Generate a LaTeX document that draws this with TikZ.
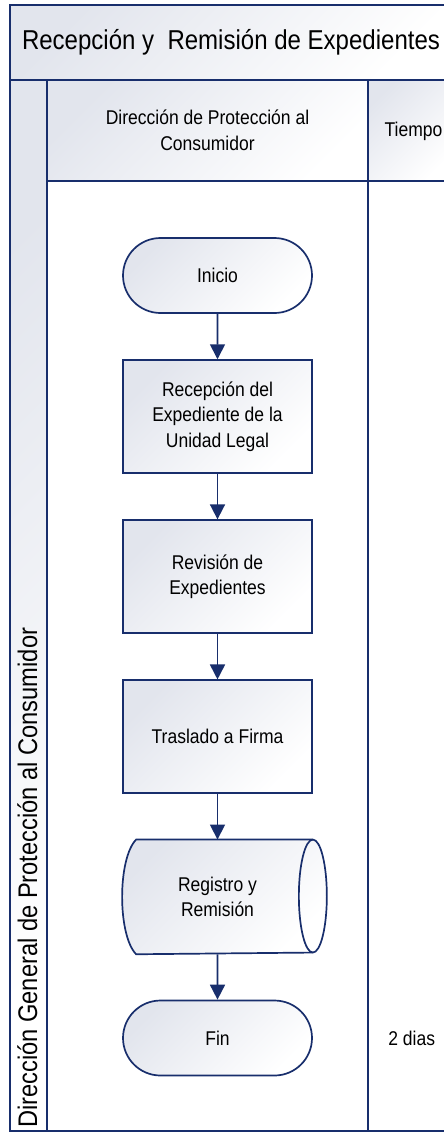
\documentclass[tikz,border=0pt]{standalone}
\usepackage{fontspec}
\setmainfont{Liberation Sans}[FakeStretch=0.88]
\usepackage{xcolor}
\usepackage{tikz}
\usetikzlibrary{positioning,arrows.meta,shapes.misc,backgrounds}

\definecolor{poolblue}{RGB}{24,46,108}
\definecolor{shadegray}{RGB}{226,229,237}

\begin{document}
\begin{tikzpicture}[x=1pt,y=-1pt,node distance=45.4pt,
  shadebox/.style={top color=shadegray,bottom color=white,shading angle=45},
  boxsize/.style={minimum width=189pt,minimum height=113pt,inner sep=0pt,align=center,
    font=\fontsize{19.9}{25.6}\selectfont},
  stepbox/.style={rectangle,draw=poolblue,line width=1.7pt,shadebox,boxsize},
  termbox/.style={stepbox,rounded rectangle,minimum height=75pt},
  flow/.style={draw=poolblue,line width=1.7pt,-{Triangle[length=15pt,width=15pt]}},
  frameline/.style={draw=poolblue,line width=2pt},
  lbl/.style={font=\fontsize{19.9}{25.6}\selectfont,align=center}]
  \useasboundingbox (0,0) rectangle (444,1133);

  \path[shadebox] (10,5) rectangle (452,80);
  \path[shadebox] (10,80) rectangle (47,1131);
  \path[shadebox] (47,80) rectangle (368,181);
  \path[shadebox] (368,80) rectangle (452,181);
  \draw[frameline] (10,5) rectangle (452,1131);
  \draw[frameline] (10,80) -- (452,80) (47,80) -- (47,1131)
    (47,181) -- (452,181) (368,80) -- (368,1131);

  \node[font=\fontsize{27.3}{30}\selectfont,anchor=base] (title) at (231,49)
    {Recepción y\ \ Remisión de Expedientes};
  \node[rotate=90,anchor=base west,inner sep=0pt,font=\fontsize{26.9}{30}\selectfont]
    (lane) at (37,1128) {Dirección General de Protección al Consumidor};
  \node[lbl] (dirhead) at (207.5,130) {Dirección de Protección al\\Consumidor};
  \node[lbl] (timehead) at (413.5,131) {Tiempo};

  \node[termbox] (inicio) at (217.5,275.5) {Inicio};
  \node[stepbox,below=of inicio] (recep) {Recepción del\\Expediente de la\\Unidad Legal};
  \node[stepbox,below=of recep] (revis) {Revisión de\\Expedientes};
  \node[stepbox,below=of revis] (trasl) {Traslado a Firma};
  \node[boxsize,line width=1.7pt,below=of trasl] (regis) {Registro y\\Remisión};
  \node[termbox,below=of regis] (fin) {Fin};
  \node[lbl,right=72pt of fin] (tfin) {2 dias};

  \begin{scope}[on background layer]
    \draw[poolblue,line width=1.7pt,shadebox]
      ([xshift=14pt]regis.north west) -- (regis.north east)
      arc[start angle=90,end angle=-90,x radius=14pt,y radius=56.5pt]
      -- ([xshift=14pt]regis.south west)
      .. controls ([xshift=-4.7pt,yshift=19pt]regis.south west)
      and ([xshift=-4.7pt,yshift=-19pt]regis.north west)
      .. cycle;
    \draw[poolblue,line width=1.7pt] (regis.north east)
      arc[start angle=90,end angle=270,x radius=14pt,y radius=56.5pt];
  \end{scope}

  \draw[flow] (inicio) -- (recep);
  \draw[flow] (recep) -- (revis);
  \draw[flow] (revis) -- (trasl);
  \draw[flow] (trasl) -- (regis);
  \draw[flow] (regis) -- (fin);
\end{tikzpicture}
\end{document}
